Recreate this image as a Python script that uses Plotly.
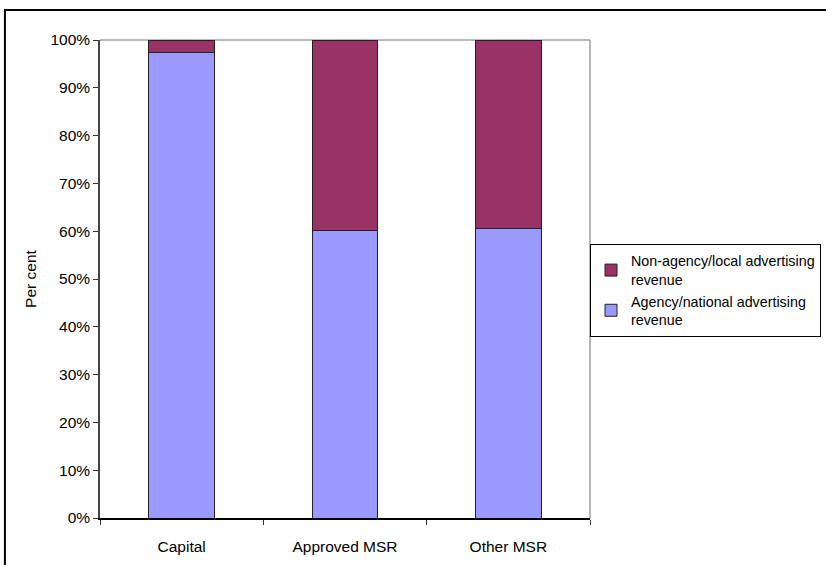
import plotly.graph_objects as go

# Share of advertising revenue by station group
categories = ["Capital", "Approved MSR", "Other MSR"]
agency_national = [0.973, 0.602, 0.605]
non_agency_local = [0.027, 0.398, 0.395]

series_names = [
    "Agency/national advertising<br>revenue",
    "Non-agency/local advertising<br>revenue",
]
y_ticks = [i / 10 for i in range(11)]

FONT = dict(family="Liberation Sans, Arial, sans-serif", size=15.5, color="black")
LEGEND_FONT = dict(family="Liberation Sans, Arial, sans-serif", size=14.3, color="black")
BAR_EDGE = dict(color="#222222", width=1)

fig = go.Figure()
fig.add_trace(go.Bar(
    x=categories, y=agency_national, name=series_names[0],
    marker=dict(color="#9999FF", line=BAR_EDGE),
))
fig.add_trace(go.Bar(
    x=categories, y=non_agency_local, name=series_names[1],
    marker=dict(color="#993366", line=BAR_EDGE),
))

fig.update_layout(
    width=826, height=565,
    margin=dict(l=100, r=236, t=40, b=47, autoexpand=False),
    barmode="stack",
    bargap=0.596,
    plot_bgcolor="white",
    paper_bgcolor="white",
    font=FONT,
    showlegend=True,
    legend=dict(
        traceorder="reversed",
        x=(590 - 100) / 490, y=(518 - 290.5) / 478,
        xanchor="left", yanchor="middle",
        bordercolor="black", borderwidth=1, bgcolor="white",
        font=LEGEND_FONT, itemwidth=30, tracegroupgap=0,
    ),
    xaxis=dict(
        type="category",
        tickson="boundaries",
        ticks="outside", ticklen=5, tickcolor="#333333",
        ticklabelstandoff=14,
        showline=True, linecolor="black", linewidth=1.5,
        showgrid=False, zeroline=False,
    ),
    yaxis=dict(
        range=[0, 1],
        tickvals=y_ticks,
        tickformat=".0%",
        ticks="outside", ticklen=5, tickcolor="#333333",
        showline=True, linecolor="#444444", linewidth=1.5,
        showgrid=False, zeroline=False,
        title=dict(text="Per cent", font=FONT, standoff=10),
    ),
    shapes=[
        # light frame on the top and right of the plot area
        dict(type="line", xref="paper", yref="paper", x0=0, x1=1, y0=1, y1=1,
             line=dict(color="#a0a0a0", width=1.5), layer="below"),
        dict(type="line", xref="paper", yref="paper", x0=1, x1=1, y0=0, y1=1,
             line=dict(color="#a0a0a0", width=1.5), layer="below"),
        # outer chart border
        dict(type="rect", xref="paper", yref="paper",
             x0=-0.194, x1=1.6, y0=-0.2, y1=1.0628,
             line=dict(color="black", width=2), fillcolor="rgba(0,0,0,0)"),
    ],
)

fig.write_html("out.html")
